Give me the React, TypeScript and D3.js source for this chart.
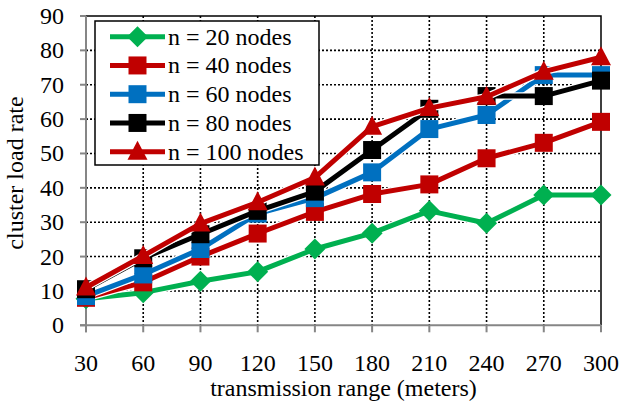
import React, { useEffect, useRef } from "react";
import * as d3 from "d3";

const ranges = [30, 60, 90, 120, 150, 180, 210, 240, 270, 300];
const n20 = [7.7, 9.5, 12.8, 15.6, 22.2, 26.8, 33.3, 29.7, 37.9, 37.9];
const n40 = [8, 12.5, 20, 26.7, 33, 38.2, 41, 48.6, 53.1, 59.2];
const n60 = [8.5, 14.8, 22.2, 32.5, 37, 44.5, 57.1, 61.2, 72.8, 72.8];
const n80 = [10.5, 19.5, 26.5, 33.3, 38.9, 51, 63, 66.7, 66.7, 71.2];
const n100 = [11, 20.2, 29.6, 35.8, 43, 57.8, 63.2, 66.5, 73.8, 78];
const yTicks = [0, 10, 20, 30, 40, 50, 60, 70, 80, 90];
const seriesNames = ["n = 20 nodes", "n = 40 nodes", "n = 60 nodes", "n = 80 nodes", "n = 100 nodes"];
const seriesColors = ["#00B050", "#C00000", "#0070C0", "#000000", "#C00000"];
const seriesMarkers = ["diamond", "square", "square", "square", "triangle"];
const seriesValues = [n20, n40, n60, n80, n100];

const W = 619, H = 405;
const FONT = "'Liberation Serif', 'Times New Roman', serif";
const FS = 24;

function markerPath(type: string): string {
  if (type === "diamond") return "M0,-10.5L10.5,0L0,10.5L-10.5,0Z";
  if (type === "square") return "M-9,-9H9V9H-9Z";
  return "M0,-11L10,8L-10,8Z";
}

export default function App() {
  const ref = useRef<SVGSVGElement>(null);
  useEffect(() => {
    const svg = d3.select(ref.current);
    svg.selectAll("*").remove();
    const x = d3.scaleLinear().domain([30, 300]).range([86, 601]);
    const y = d3.scaleLinear().domain([0, 90]).range([325.3, 16]);
    const x0 = x(30), x1 = x(300), y0 = y(0), y1 = y(90);

    // gridlines
    const g = svg.append("g");
    g.selectAll("line.hg").data(yTicks.filter(t => t > 0 && t < 90)).join("line")
      .attr("x1", x0).attr("x2", x1).attr("y1", d => y(d)).attr("y2", d => y(d))
      .attr("stroke", "#000").attr("stroke-width", 1.6).attr("stroke-dasharray", "2,2");
    g.selectAll("line.vg").data(ranges.filter(t => t > 30 && t < 300)).join("line")
      .attr("x1", d => x(d)).attr("x2", d => x(d)).attr("y1", y1).attr("y2", y0)
      .attr("stroke", "#000").attr("stroke-width", 1.6).attr("stroke-dasharray", "2,2");
    // border top/right
    g.append("path").attr("d", `M${x0},${y1}H${x1}V${y0}`).attr("fill", "none")
      .attr("stroke", "#000").attr("stroke-width", 1.5);
    // axes
    g.append("line").attr("x1", x0).attr("x2", x0).attr("y1", y1).attr("y2", y0 + 7)
      .attr("stroke", "#868686").attr("stroke-width", 2);
    g.append("line").attr("x1", x0 - 6).attr("x2", x1).attr("y1", y0).attr("y2", y0)
      .attr("stroke", "#868686").attr("stroke-width", 2);
    g.selectAll("line.yt").data(yTicks).join("line")
      .attr("x1", x0 - 6).attr("x2", x0).attr("y1", d => y(d)).attr("y2", d => y(d))
      .attr("stroke", "#868686").attr("stroke-width", 2);
    g.selectAll("line.xt").data(ranges).join("line")
      .attr("x1", d => x(d)).attr("x2", d => x(d)).attr("y1", y0).attr("y2", y0 + 7)
      .attr("stroke", "#868686").attr("stroke-width", 2);

    // tick labels
    g.selectAll("text.yl").data(yTicks).join("text")
      .attr("x", 64).attr("y", d => y(d) + 8).attr("text-anchor", "end")
      .attr("font-family", FONT).attr("font-size", FS).attr("fill", "#000").text(d => d);
    g.selectAll("text.xl").data(ranges).join("text")
      .attr("x", d => x(d)).attr("y", 371).attr("text-anchor", "middle")
      .attr("font-family", FONT).attr("font-size", FS).attr("fill", "#000").text(d => d);
    g.append("text").attr("x", (x0 + x1) / 2).attr("y", 396).attr("text-anchor", "middle")
      .attr("font-family", FONT).attr("font-size", FS).text("transmission range (meters)");
    g.append("text").attr("transform", `translate(23,173) rotate(-90)`).attr("text-anchor", "middle")
      .attr("font-family", FONT).attr("font-size", FS).text("cluster load rate");

    // series
    const line = d3.line<number>().x((_, i) => x(ranges[i])).y(d => y(d));
    seriesValues.forEach((vals, si) => {
      const sg = svg.append("g");
      sg.append("path").attr("d", line(vals)).attr("fill", "none")
        .attr("stroke", "#fff").attr("stroke-width", 7.5).attr("stroke-linejoin", "round");
      sg.append("path").attr("d", line(vals)).attr("fill", "none")
        .attr("stroke", seriesColors[si]).attr("stroke-width", 5).attr("stroke-linejoin", "round");
      sg.selectAll("path.m").data(vals).join("path")
        .attr("transform", (d, i) => `translate(${x(ranges[i])},${y(d)})`)
        .attr("d", markerPath(seriesMarkers[si])).attr("fill", seriesColors[si]);
    });

    // legend
    const lg = svg.append("g");
    lg.append("rect").attr("x", 95).attr("y", 21).attr("width", 224).attr("height", 144)
      .attr("fill", "#fff").attr("stroke", "#000").attr("stroke-width", 1.5);
    seriesNames.forEach((name, i) => {
      const cy = 36.7 + i * 28.75;
      lg.append("line").attr("x1", 110).attr("x2", 165).attr("y1", cy).attr("y2", cy)
        .attr("stroke", seriesColors[i]).attr("stroke-width", 5);
      lg.append("path").attr("transform", `translate(137.5,${cy})`).attr("d", markerPath(seriesMarkers[i]))
        .attr("fill", seriesColors[i]);
      lg.append("text").attr("x", 168).attr("y", cy + 8).attr("font-family", FONT)
        .attr("font-size", FS).text(name);
    });
  }, []);
  return (
    <svg ref={ref} width={W} height={H} style={{ position: "absolute", left: 0, top: 0, background: "#fff" }} />
  );
}
